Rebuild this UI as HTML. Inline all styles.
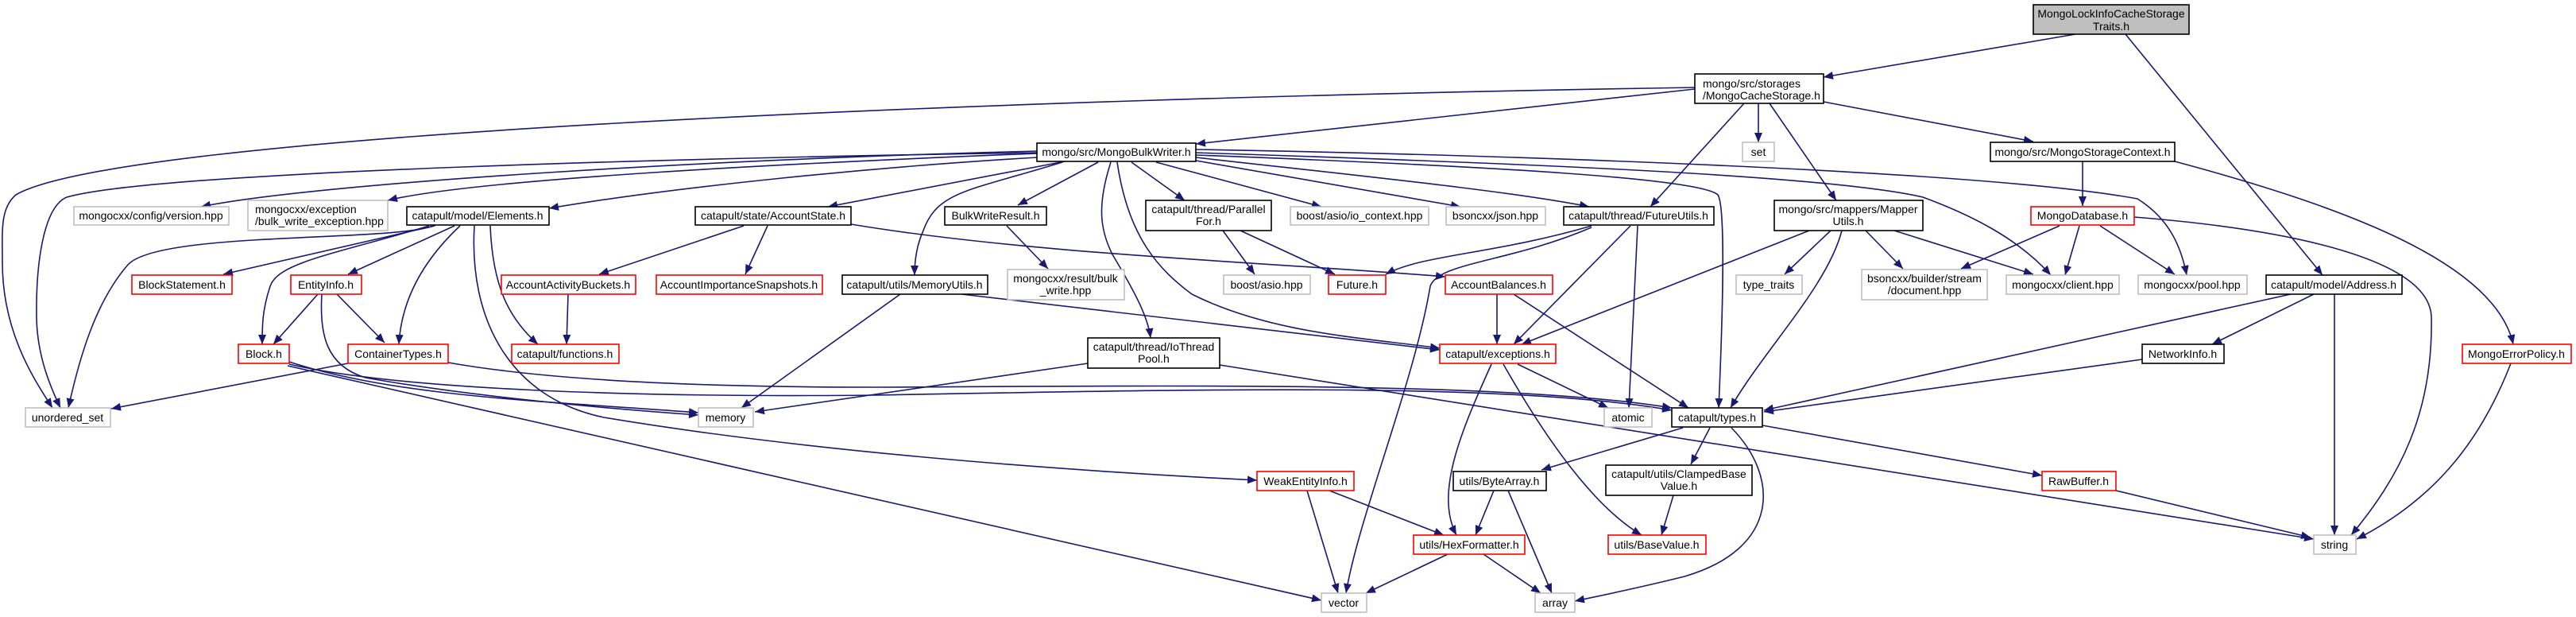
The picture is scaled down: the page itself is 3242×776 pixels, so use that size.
<!DOCTYPE html>
<html><head><meta charset="utf-8"><style>
html,body{margin:0;padding:0;background:#fff;}
svg{display:block;}
text{font-family:"Liberation Sans",Helvetica,Arial,sans-serif;font-size:14px;fill:#000;}
.e{fill:none;stroke:#191970;stroke-width:1.6;marker-end:url(#a);}
.b{fill:#fff;stroke:#000;stroke-width:1.6;}
.g{fill:#fff;stroke:#bfbfbf;stroke-width:1.6;}
.r{fill:#fff;stroke:#ff0000;stroke-width:1.6;}
</style></head><body>
<svg width="3242" height="776" viewBox="0 0 3242 776" xmlns="http://www.w3.org/2000/svg">
<defs><marker id="a" markerUnits="userSpaceOnUse" markerWidth="14" markerHeight="12" refX="12" refY="5" orient="auto"><path d="M0,0 L12,5 L0,10 z" fill="#191970"/></marker></defs>

<!-- edges -->
<path class="e" d="M2612,43 L2295,97"/>
<path class="e" d="M2675,43 L2923,346"/>
<path class="e" d="M2133,112 L1505,181"/>
<path class="e" d="M2133,110 C1200,125 150,170 20,245 C0,262 3,290 3,330 C3,420 45,480 66,513"/>
<path class="e" d="M2195,130 L2077,260"/>
<path class="e" d="M2213,130 L2213,179"/>
<path class="e" d="M2227,130 L2311,252"/>
<path class="e" d="M2295,128 L2559,178"/>
<path class="e" d="M2621,203 L2621,259"/>
<path class="e" d="M2737,203 C2950,260 3140,330 3163,433"/>
<path class="e" d="M1305,192 C900,198 200,215 84,248 C55,260 45,330 46,400 C47,450 65,490 76,513"/>
<path class="e" d="M1305,190 C900,200 400,230 253,260"/>
<path class="e" d="M1305,193 C1000,205 600,225 488,252"/>
<path class="e" d="M1305,198 C1100,210 850,235 691,262"/>
<path class="e" d="M1340,203 L1042,260"/>
<path class="e" d="M1337,204 C1220,240 1180,240 1162,290 C1153,310 1151,330 1151,346"/>
<path class="e" d="M1382,204 L1281,258"/>
<path class="e" d="M1398,204 C1380,260 1385,290 1400,320 C1430,370 1445,400 1448,425"/>
<path class="e" d="M1406,204 C1420,300 1460,340 1500,370 C1600,420 1720,425 1812,438"/>
<path class="e" d="M1424,204 L1491,252"/>
<path class="e" d="M1455,204 L1663,260"/>
<path class="e" d="M1505,202 L1838,260"/>
<path class="e" d="M1505,198 C1700,220 1900,240 2000,260"/>
<path class="e" d="M1505,195 C1900,210 2140,225 2162,245 C2172,260 2168,400 2163,513"/>
<path class="e" d="M1505,192 C1900,205 2300,220 2420,248 C2480,270 2540,300 2581,346"/>
<path class="e" d="M1505,188 C1900,195 2500,215 2690,250 C2730,275 2745,310 2752,346"/>
<path class="e" d="M2686,273 C2900,290 3060,330 3060,400 C3062,520 3020,600 2959,673"/>
<path class="e" d="M2592,284 L2468,338"/>
<path class="e" d="M2617,284 L2599,346"/>
<path class="e" d="M2643,284 L2737,345"/>
<path class="e" d="M2277,290 L1915,433"/>
<path class="e" d="M2304,290 L2246,345"/>
<path class="e" d="M2318,290 C2300,360 2220,440 2178,513"/>
<path class="e" d="M2348,290 L2395,338"/>
<path class="e" d="M2384,290 L2559,345"/>
<path class="e" d="M2883,370 L2220,516"/>
<path class="e" d="M2912,370 L2784,433"/>
<path class="e" d="M2938,370 L2938,673"/>
<path class="e" d="M2696,452 L2220,518"/>
<path class="e" d="M2003,284 C1880,320 1790,320 1744,345"/>
<path class="e" d="M2003,286 C1900,330 1810,330 1800,360 C1780,480 1710,650 1694,746"/>
<path class="e" d="M2052,284 L1905,433"/>
<path class="e" d="M2061,284 L2050,513"/>
<path class="e" d="M1884,370 L1884,433"/>
<path class="e" d="M1905,370 L2125,513"/>
<path class="e" d="M1071,282 C1300,320 1600,330 1819,348"/>
<path class="e" d="M936,284 L754,345"/>
<path class="e" d="M966,284 L938,345"/>
<path class="e" d="M715,370 L713,433"/>
<path class="e" d="M547,284 L281,345"/>
<path class="e" d="M572,284 L438,345"/>
<path class="e" d="M548,283 C500,305 200,290 161,333 C120,380 100,450 86,513"/>
<path class="e" d="M540,284 C420,320 350,330 340,360 C330,390 330,410 330,433"/>
<path class="e" d="M579,284 C530,330 505,380 502,433"/>
<path class="e" d="M617,284 C620,360 640,400 677,433"/>
<path class="e" d="M597,284 C590,400 640,500 760,525 C1000,565 1300,590 1582,604"/>
<path class="e" d="M400,370 L344,433"/>
<path class="e" d="M424,370 L484,431"/>
<path class="e" d="M405,370 C402,420 410,460 460,475 C600,500 780,515 879,522"/>
<path class="e" d="M364,455 C500,500 700,505 879,519"/>
<path class="e" d="M364,458 C500,490 800,500 1100,497 C1500,490 1900,480 2104,516"/>
<path class="e" d="M564,456 C700,480 900,487 1100,487 C1500,485 1900,480 2104,513"/>
<path class="e" d="M362,460 L1663,755"/>
<path class="e" d="M438,457 L140,514"/>
<path class="e" d="M1369,457 L950,518"/>
<path class="e" d="M1535,459 L2912,678"/>
<path class="e" d="M1133,370 L933,513"/>
<path class="e" d="M1210,370 L1812,440"/>
<path class="e" d="M1267,284 L1319,338"/>
<path class="e" d="M1539,290 L1579,345"/>
<path class="e" d="M1561,290 L1680,345"/>
<path class="e" d="M1910,458 L2024,513"/>
<path class="e" d="M1877,458 C1840,540 1805,620 1833,673"/>
<path class="e" d="M1892,458 C1950,560 2010,640 2066,673"/>
<path class="e" d="M2118,538 L1940,591"/>
<path class="e" d="M2152,538 L2128,584"/>
<path class="e" d="M2218,535 L2570,598"/>
<path class="e" d="M2179,538 C2240,600 2240,690 2120,725 C2060,740 2010,750 1982,756"/>
<path class="e" d="M1645,617 L1684,746"/>
<path class="e" d="M1673,617 L1817,673"/>
<path class="e" d="M1880,617 L1857,673"/>
<path class="e" d="M1898,617 L1953,746"/>
<path class="e" d="M2106,623 L2091,673"/>
<path class="e" d="M1822,697 L1719,746"/>
<path class="e" d="M1867,697 L1939,746"/>
<path class="e" d="M2663,617 L2908,676"/>
<path class="e" d="M3160,457 C3120,560 3060,630 2966,678"/>

<!-- nodes -->
<rect x="2559" y="6" width="196" height="37" fill="#bfbfbf" stroke="#000" stroke-width="1.6"/>
<text x="2657" y="22" text-anchor="middle">MongoLockInfoCacheStorage</text>
<text x="2657" y="38" text-anchor="middle">Traits.h</text>

<rect class="b" x="2133" y="93" width="162" height="37"/>
<text x="2143" y="110">mongo/src/storages</text>
<text x="2143" y="125">/MongoCacheStorage.h</text>

<rect class="b" x="1305" y="180" width="200" height="23"/><text x="1405" y="196" text-anchor="middle">mongo/src/MongoBulkWriter.h</text>
<rect class="g" x="2193" y="179" width="40" height="24"/><text x="2213" y="196" text-anchor="middle">set</text>
<rect class="b" x="2505" y="179" width="232" height="24"/><text x="2621" y="196" text-anchor="middle">mongo/src/MongoStorageContext.h</text>

<rect class="g" x="93" y="260" width="195" height="23"/><text x="190" y="276" text-anchor="middle">mongocxx/config/version.hpp</text>
<rect class="g" x="312" y="252" width="176" height="38"/><text x="321" y="268">mongocxx/exception</text><text x="321" y="283">/bulk_write_exception.hpp</text>
<rect class="b" x="512" y="260" width="179" height="23"/><text x="601" y="276" text-anchor="middle">catapult/model/Elements.h</text>
<rect class="b" x="875" y="260" width="196" height="23"/><text x="973" y="276" text-anchor="middle">catapult/state/AccountState.h</text>
<rect class="b" x="1189" y="260" width="128" height="23"/><text x="1253" y="276" text-anchor="middle">BulkWriteResult.h</text>
<rect class="b" x="1442" y="252" width="158" height="38"/><text x="1521" y="268" text-anchor="middle">catapult/thread/Parallel</text><text x="1521" y="283" text-anchor="middle">For.h</text>
<rect class="g" x="1624" y="260" width="174" height="23"/><text x="1711" y="276" text-anchor="middle">boost/asio/io_context.hpp</text>
<rect class="g" x="1820" y="260" width="125" height="23"/><text x="1882" y="276" text-anchor="middle">bsoncxx/json.hpp</text>
<rect class="b" x="1968" y="260" width="189" height="23"/><text x="2062" y="276" text-anchor="middle">catapult/thread/FutureUtils.h</text>
<rect class="b" x="2233" y="252" width="187" height="38"/><text x="2326" y="268" text-anchor="middle">mongo/src/mappers/Mapper</text><text x="2326" y="283" text-anchor="middle">Utils.h</text>
<rect class="r" x="2556" y="260" width="130" height="23"/><text x="2621" y="276" text-anchor="middle">MongoDatabase.h</text>

<rect class="r" x="166" y="346" width="126" height="24"/><text x="229" y="363" text-anchor="middle">BlockStatement.h</text>
<rect class="r" x="366" y="346" width="89" height="24"/><text x="410" y="363" text-anchor="middle">EntityInfo.h</text>
<rect class="r" x="631" y="346" width="169" height="24"/><text x="715" y="363" text-anchor="middle">AccountActivityBuckets.h</text>
<rect class="r" x="826" y="346" width="209" height="24"/><text x="930" y="363" text-anchor="middle">AccountImportanceSnapshots.h</text>
<rect class="b" x="1060" y="346" width="183" height="24"/><text x="1151" y="363" text-anchor="middle">catapult/utils/MemoryUtils.h</text>
<rect class="g" x="1268" y="339" width="147" height="38"/><text x="1341" y="355" text-anchor="middle">mongocxx/result/bulk</text><text x="1341" y="370" text-anchor="middle">_write.hpp</text>
<rect class="g" x="1540" y="346" width="109" height="24"/><text x="1594" y="363" text-anchor="middle">boost/asio.hpp</text>
<rect class="r" x="1672" y="346" width="72" height="24"/><text x="1708" y="363" text-anchor="middle">Future.h</text>
<rect class="r" x="1819" y="346" width="135" height="24"/><text x="1886" y="363" text-anchor="middle">AccountBalances.h</text>
<rect class="g" x="2185" y="346" width="83" height="24"/><text x="2226" y="363" text-anchor="middle">type_traits</text>
<rect class="g" x="2343" y="339" width="158" height="38"/><text x="2422" y="355" text-anchor="middle">bsoncxx/builder/stream</text><text x="2422" y="370" text-anchor="middle">/document.hpp</text>
<rect class="g" x="2525" y="346" width="142" height="24"/><text x="2596" y="363" text-anchor="middle">mongocxx/client.hpp</text>
<rect class="g" x="2691" y="346" width="137" height="24"/><text x="2759" y="363" text-anchor="middle">mongocxx/pool.hpp</text>
<rect class="b" x="2852" y="346" width="171" height="24"/><text x="2937" y="363" text-anchor="middle">catapult/model/Address.h</text>

<rect class="r" x="300" y="433" width="64" height="24"/><text x="332" y="450" text-anchor="middle">Block.h</text>
<rect class="r" x="438" y="433" width="126" height="24"/><text x="501" y="450" text-anchor="middle">ContainerTypes.h</text>
<rect class="r" x="644" y="433" width="135" height="24"/><text x="711" y="450" text-anchor="middle">catapult/functions.h</text>
<rect class="b" x="1369" y="425" width="166" height="38"/><text x="1452" y="441" text-anchor="middle">catapult/thread/IoThread</text><text x="1452" y="456" text-anchor="middle">Pool.h</text>
<rect class="r" x="1812" y="433" width="146" height="24"/><text x="1885" y="450" text-anchor="middle">catapult/exceptions.h</text>
<rect class="b" x="2696" y="433" width="103" height="24"/><text x="2747" y="450" text-anchor="middle">NetworkInfo.h</text>
<rect class="r" x="3099" y="433" width="137" height="24"/><text x="3167" y="450" text-anchor="middle">MongoErrorPolicy.h</text>

<rect class="g" x="32" y="513" width="107" height="24"/><text x="85" y="530" text-anchor="middle">unordered_set</text>
<rect class="g" x="879" y="513" width="69" height="24"/><text x="913" y="530" text-anchor="middle">memory</text>
<rect class="g" x="2019" y="513" width="60" height="24"/><text x="2049" y="530" text-anchor="middle">atomic</text>
<rect class="b" x="2104" y="513" width="114" height="24"/><text x="2161" y="530" text-anchor="middle">catapult/types.h</text>

<rect class="r" x="1582" y="593" width="122" height="24"/><text x="1643" y="610" text-anchor="middle">WeakEntityInfo.h</text>
<rect class="b" x="1829" y="593" width="117" height="24"/><text x="1887" y="610" text-anchor="middle">utils/ByteArray.h</text>
<rect class="b" x="2021" y="585" width="184" height="38"/><text x="2113" y="601" text-anchor="middle">catapult/utils/ClampedBase</text><text x="2113" y="616" text-anchor="middle">Value.h</text>
<rect class="r" x="2570" y="593" width="93" height="24"/><text x="2616" y="610" text-anchor="middle">RawBuffer.h</text>

<rect class="r" x="1779" y="673" width="140" height="24"/><text x="1849" y="690" text-anchor="middle">utils/HexFormatter.h</text>
<rect class="r" x="2024" y="673" width="123" height="24"/><text x="2085" y="690" text-anchor="middle">utils/BaseValue.h</text>
<rect class="g" x="2912" y="673" width="53" height="24"/><text x="2938" y="690" text-anchor="middle">string</text>

<rect class="g" x="1663" y="746" width="57" height="24"/><text x="1691" y="763" text-anchor="middle">vector</text>
<rect class="g" x="1932" y="746" width="50" height="24"/><text x="1957" y="763" text-anchor="middle">array</text>
</svg>
</body></html>
